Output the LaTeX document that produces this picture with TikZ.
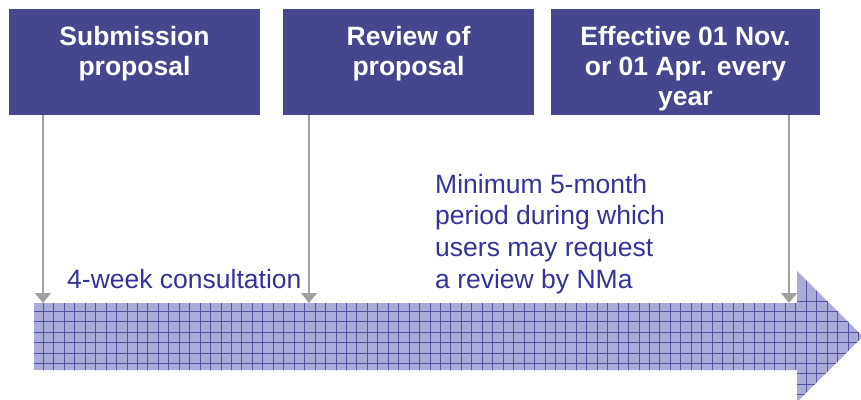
\documentclass[tikz,border=0pt]{standalone}
\usepackage{fontspec}
\setmainfont{Liberation Sans}
\usetikzlibrary{arrows.meta}
\definecolor{boxblue}{HTML}{46468E}
\definecolor{textblue}{HTML}{333399}
\definecolor{patfill}{HTML}{ABABDB}
\definecolor{patline}{HTML}{5454A4}
\definecolor{tickgrey}{HTML}{A0A0A0}

\begin{document}
\begin{tikzpicture}[x=1pt, y=-1pt,
  box/.style={rectangle, fill=boxblue, minimum width=#1, minimum height=106pt, inner sep=0pt},
  boxtext/.style={text=white, font=\fontsize{26.5}{30}\selectfont\bfseries, align=center, inner sep=0pt, anchor=north},
  note/.style={text=textblue, font=\fontsize{26.5}{31.7}\selectfont, inner sep=0pt},
  gridline/.style={draw=patline, line width=0.8pt},
  tick/.style={draw=tickgrey, line width=1.3pt, -{Triangle[width=16pt,length=10pt]}}]
\useasboundingbox (0,0) rectangle (861,399);

% timeline arrow with grid pattern
\begin{scope}
\clip (34,303) -- (797,303) -- (797,271) -- (863,336.5) -- (797,402) -- (797,370) -- (34,370) -- cycle;
\fill[patfill] (0,260) rectangle (870,410);
\foreach \x in {43.3,53.75,...,870} \draw[gridline] (\x,260) -- (\x,410);
\foreach \y in {300.9,311.3,...,410} \draw[gridline] (0,\y) -- (870,\y);
\end{scope}

% boxes
\node[box=251pt] (sub) at (134.5,62) {};
\node[box=251pt] (rev) at (408.5,62) {};
\node[box=269pt] (eff) at (685.5,62) {};
\node[boxtext] (subtxt) at (134.5,25.7) {Submission\\proposal};
\node[boxtext] (revtxt) at (408.5,25.7) {Review of\\proposal};
\node[boxtext] (efftxt) at (685.5,25.7) {Effective 01 Nov.\\or 01 Apr. every\\year};

% labels
\node[note, anchor=base west] (consult) at (67,288) {4-week consultation};
\node[note, anchor=north west, align=left] (period) at (435,173.7) {Minimum 5-month\\period during which\\users may request\\a review by NMa};

% ticks
\coordinate (t1) at (43,303);
\coordinate (t2) at (309,303);
\coordinate (t3) at (789,303);
\draw[tick] (sub.south -| t1) -- (t1);
\draw[tick] (rev.south -| t2) -- (t2);
\draw[tick] (eff.south -| t3) -- (t3);
\end{tikzpicture}
\end{document}
